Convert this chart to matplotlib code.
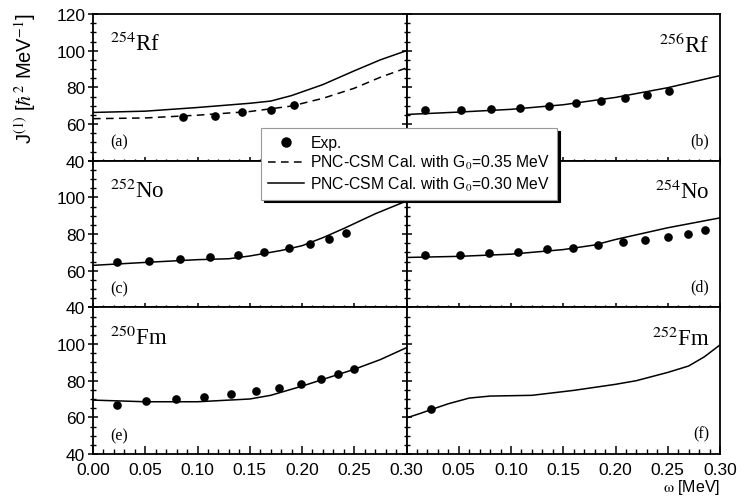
import numpy as np
import matplotlib
matplotlib.use("Agg")
import matplotlib.pyplot as plt
from matplotlib.lines import Line2D
from matplotlib.ticker import MultipleLocator

plt.rcParams['font.family'] = ['Liberation Sans', 'DejaVu Sans']
plt.rcParams['mathtext.fontset'] = 'stix'

# --- datos ---
# (a) 254Rf
exp_a_w = [0.086, 0.117, 0.143, 0.170, 0.192]
exp_a_j = [63.8, 64.3, 66.3, 67.8, 70.1]
cal35_a_w = [0.00, 0.05, 0.10, 0.15, 0.19, 0.22, 0.25, 0.275, 0.30]
cal35_a_j = [62.9, 63.3, 64.8, 66.8, 69.8, 74.0, 79.5, 85.5, 90.6]
cal30_a_w = [0.00, 0.05, 0.10, 0.15, 0.17, 0.19, 0.22, 0.25, 0.275, 0.30]
cal30_a_j = [66.3, 67.0, 69.0, 71.3, 72.5, 75.5, 81.5, 89.0, 95.0, 100.0]

# (b) 256Rf
exp_b_w = [0.018, 0.052, 0.081, 0.109, 0.136, 0.162, 0.186, 0.209, 0.230, 0.251]
exp_b_j = [67.9, 67.6, 68.1, 68.7, 69.8, 71.2, 72.8, 74.1, 75.9, 78.1]
cal_b_w = [0.00, 0.05, 0.10, 0.15, 0.20, 0.25, 0.30]
cal_b_j = [65.2, 66.5, 68.0, 70.5, 74.5, 79.8, 86.4]

# (c) 252No
exp_c_w = [0.023, 0.054, 0.083, 0.112, 0.139, 0.164, 0.188, 0.208, 0.226, 0.242]
exp_c_j = [64.9, 65.4, 66.3, 67.2, 68.7, 70.1, 72.1, 74.5, 77.4, 80.8]
cal_c_w = [0.00, 0.05, 0.10, 0.13, 0.15, 0.18, 0.20, 0.22, 0.24, 0.27, 0.30]
cal_c_j = [62.9, 64.5, 66.0, 66.5, 68.0, 71.0, 73.6, 78.0, 83.0, 91.0, 98.0]

# (d) 254No
exp_d_w = [0.018, 0.051, 0.079, 0.107, 0.134, 0.159, 0.183, 0.207, 0.228, 0.250, 0.269, 0.286]
exp_d_j = [68.5, 68.8, 69.4, 70.3, 71.6, 72.5, 74.1, 75.4, 76.8, 78.5, 80.1, 82.4]
cal_d_w = [0.00, 0.05, 0.10, 0.15, 0.18, 0.20, 0.25, 0.30]
cal_d_j = [67.2, 67.8, 69.0, 71.5, 74.0, 77.0, 83.4, 88.8]

# (e) 250Fm
exp_e_w = [0.023, 0.051, 0.079, 0.106, 0.132, 0.156, 0.178, 0.199, 0.218, 0.234, 0.250]
exp_e_j = [67.0, 68.9, 70.0, 71.1, 72.5, 74.1, 76.0, 78.4, 80.7, 83.7, 86.6]
cal_e_w = [0.00, 0.05, 0.10, 0.15, 0.17, 0.20, 0.25, 0.275, 0.30]
cal_e_j = [69.4, 68.5, 68.5, 70.0, 72.0, 77.0, 86.2, 91.5, 98.0]

# (f) 252Fm
exp_f_w = [0.023]
exp_f_j = [64.7]
cal_f_w = [0.00, 0.0125, 0.025, 0.04, 0.06, 0.08, 0.12, 0.16, 0.20, 0.22, 0.25, 0.27, 0.285, 0.30]
cal_f_j = [59.7, 62.0, 64.5, 67.4, 70.5, 71.6, 72.0, 74.7, 78.0, 80.0, 84.5, 88.0, 93.0, 99.5]

nucleos = [r'$^{254}$Rf', r'$^{256}$Rf', r'$^{252}$No', r'$^{254}$No', r'$^{250}$Fm', r'$^{252}$Fm']
letras = ['(a)', '(b)', '(c)', '(d)', '(e)', '(f)']

exp_w = [exp_a_w, exp_b_w, exp_c_w, exp_d_w, exp_e_w, exp_f_w]
exp_j = [exp_a_j, exp_b_j, exp_c_j, exp_d_j, exp_e_j, exp_f_j]
cal_w = [cal30_a_w, cal_b_w, cal_c_w, cal_d_w, cal_e_w, cal_f_w]
cal_j = [cal30_a_j, cal_b_j, cal_c_j, cal_d_j, cal_e_j, cal_f_j]

fig, axs = plt.subplots(3, 2, figsize=(7.46, 5.02), dpi=100)
fig.subplots_adjust(left=93/746, right=720/746, top=1-15/502, bottom=1-455/502,
                    hspace=0, wspace=0)

for i, ax in enumerate(axs.flat):
    fila, col = divmod(i, 2)
    ax.plot(cal_w[i], cal_j[i], color='black', lw=1.1)
    ax.plot(exp_w[i], exp_j[i], 'o', color='black', ms=5.2, ls='none')
    if i == 0:
        ax.plot(cal35_a_w, cal35_a_j, color='black', lw=1.1, dashes=(5, 3.5))

    ax.set_xlim(0, 0.30)
    ax.set_ylim(40, 120)
    ax.xaxis.set_major_locator(MultipleLocator(0.05))
    ax.xaxis.set_minor_locator(MultipleLocator(0.01))
    ax.yaxis.set_major_locator(MultipleLocator(20))
    ax.yaxis.set_minor_locator(MultipleLocator(5))
    for s in ax.spines.values():
        s.set_linewidth(1.3)

    xdir = 'in' if fila == 2 else 'inout'
    ax.tick_params(axis='x', which='major', direction=xdir, length=6, width=1.1)
    ax.tick_params(axis='x', which='minor', direction=xdir, length=3.5, width=1.0)
    ax.tick_params(axis='y', which='major', direction='inout', length=7, width=1.1)
    ax.tick_params(axis='y', which='minor', direction='inout', length=4, width=1.0)
    ax.tick_params(labelsize=12.5)
    ax.tick_params(axis='x', pad=6)
    ax.tick_params(axis='y', pad=2)

    if col == 0:
        ylab = ['40', '60', '80', '100', '120' if fila == 0 else '']
        ax.set_yticks([40, 60, 80, 100, 120], ylab)
    else:
        ax.set_yticklabels([])
    if fila == 2:
        xt = [0.0, 0.05, 0.10, 0.15, 0.20, 0.25, 0.30]
        xl = ['%.2f' % v for v in xt]
        if col == 1:
            xl[0] = ''
        ax.set_xticks(xt, xl)
    else:
        ax.set_xticklabels([])

    if col == 0:
        ax.text(0.055, 0.80, nucleos[i], transform=ax.transAxes, ha='left', va='center',
                fontsize=16.5, family='Liberation Serif')
        ax.text(0.055, 0.13, letras[i], transform=ax.transAxes, ha='left', va='center',
                fontsize=11.5, family='Liberation Serif')
    else:
        ax.text(0.965, 0.79, nucleos[i], transform=ax.transAxes, ha='right', va='center',
                fontsize=16.5, family='Liberation Serif')
        ax.text(0.965, 0.14, letras[i], transform=ax.transAxes, ha='right', va='center',
                fontsize=11.5, family='Liberation Serif')

fig.text(25/746, 1-79/502, r'J$^{(1)}$ [$\hbar^2$ MeV$^{-1}$]', rotation=90,
         ha='center', va='center', fontsize=14.5)
fig.text(720/746, 1-488/502, r'$\mathrm{\omega}$ [MeV]', ha='right', va='center', fontsize=11.5)

handles = [Line2D([], [], marker='o', color='black', ls='none', ms=6.5),
           Line2D([], [], color='black', lw=1.1, dashes=(5, 3.5)),
           Line2D([], [], color='black', lw=1.1)]
labels = ['Exp.', r'PNC-CSM Cal. with G$_0$=0.35 MeV', r'PNC-CSM Cal. with G$_0$=0.30 MeV']
leg = fig.legend(handles, labels, loc='upper left', bbox_to_anchor=(261/746, 1-129/502),
                 fontsize=11.3, frameon=True, fancybox=False, shadow={'color': 'black', 'alpha': 1},
                 handlelength=2.3, handletextpad=0.4, borderpad=0.45, labelspacing=0.2,
                 borderaxespad=0)
leg.get_frame().set_edgecolor('#999999')
leg.get_frame().set_linewidth(0.8)

plt.savefig('out.png', dpi=100)
